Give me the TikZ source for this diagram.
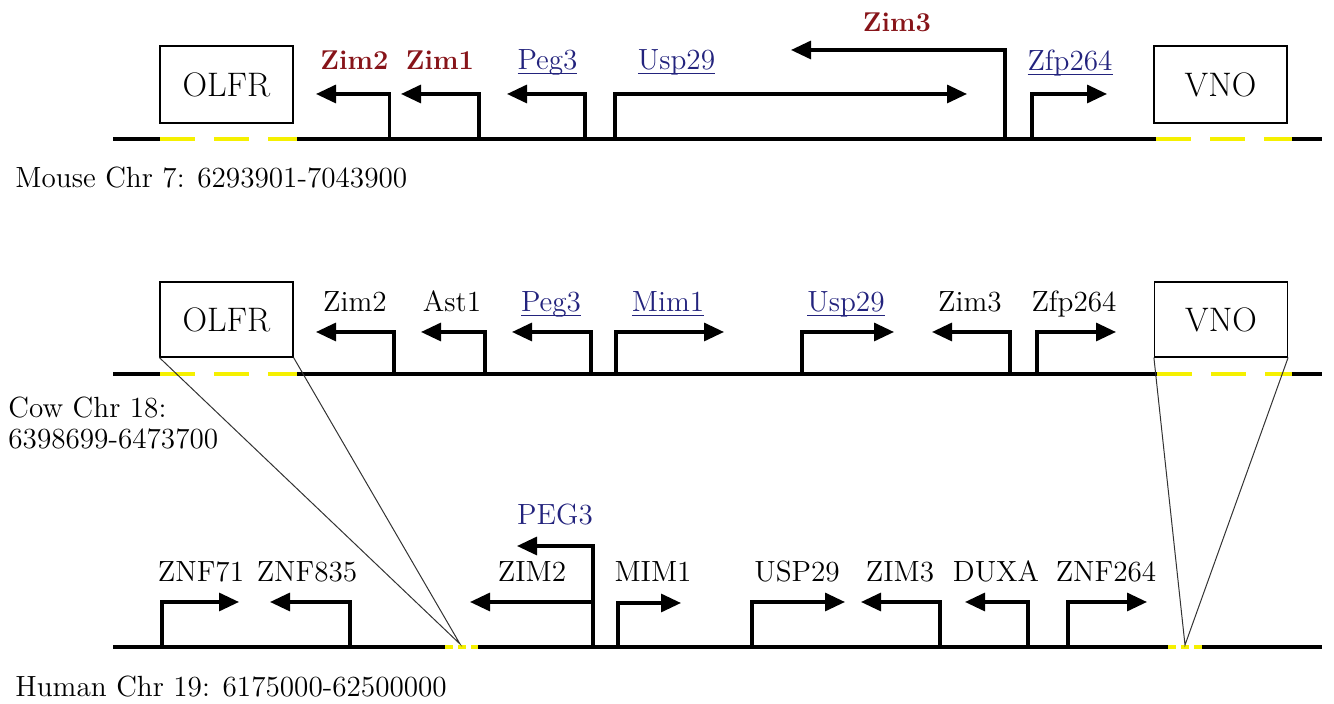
\documentclass[tikz,border=0pt]{standalone}
\usetikzlibrary{arrows.meta}
\definecolor{genered}{RGB}{135,20,25}
\definecolor{geneblue}{RGB}{35,35,125}
\definecolor{chryellow}{RGB}{245,240,0}
\newcommand\gul[1]{\setbox0\hbox{#1}\rlap{\rule[-2pt]{\wd0}{0.7pt}}\box0}
\begin{document}
\begin{tikzpicture}[x=0.5pt,y=-0.5pt,
  chrline/.style={line width=1.6pt, black},
  yel/.style={line width=1.6pt, chryellow, dash pattern=on 17.5pt off 9.5pt},
  yeldot/.style={line width=1.6pt, chryellow, dash pattern=on 4pt off 2.6pt},
  gene/.style={line width=1.6pt, -{Triangle[length=10pt,width=9pt]}},
  regbox/.style={draw, line width=0.6pt, inner sep=0pt, minimum width=66.5pt,
     font=\fontsize{17}{20}\selectfont},
  zoomline/.style={line width=0.5pt, black!80},
  lab/.style={inner sep=0pt, anchor=base, font=\fontsize{14.6}{17}\selectfont},
  redlab/.style={inner sep=0pt, anchor=base, text=genered, font=\fontsize{13.6}{16}\selectfont\bfseries},
  bluelab/.style={lab, text=geneblue},
  chrlab/.style={inner sep=0pt, anchor=base west, font=\fontsize{14.6}{17}\selectfont}
]
\useasboundingbox (0,0) rectangle (1334,704);

% ---------------- Mouse ----------------
\draw[chrline] (113,139) -- (160,139);
\draw[yel] (160,139) -- (297,139);
\draw[chrline] (297,139) -- (1156,139);
\draw[yel] (1156,139) -- (1292,139);
\draw[chrline] (1292,139) -- (1322,139);

\node[regbox, minimum height=38.5pt] (mOLFR) at (226.5,84.5) {OLFR};
\node[regbox, minimum height=38.5pt] (mVNO) at (1220.5,84.5) {VNO};

\coordinate (mZim2s) at (389.5,139); \coordinate (mZim2e) at (316,94);
\coordinate (mZim1s) at (479,139);   \coordinate (mZim1e) at (401,94);
\coordinate (mPeg3s) at (585,139);   \coordinate (mPeg3e) at (507,94);
\coordinate (mUsps)  at (615,139);   \coordinate (mUspe)  at (967,94);
\coordinate (mZim3s) at (1005,139);  \coordinate (mZim3e) at (791,50);
\coordinate (mZfps)  at (1032,139);  \coordinate (mZfpe)  at (1107,94);
\draw[gene] (mZim2s) |- (mZim2e);
\draw[gene] (mZim1s) |- (mZim1e);
\draw[gene] (mPeg3s) |- (mPeg3e);
\draw[gene] (mUsps) |- (mUspe);
\draw[gene] (mZim3s) |- (mZim3e);
\draw[gene] (mZfps) |- (mZfpe);

\node[redlab] (lmZim2) at (354.5,70) {Zim2};
\node[redlab] (lmZim1) at (440,70) {Zim1};
\node[bluelab] (lmPeg3) at (547.5,70) {\gul{Peg3}};
\node[bluelab] (lmUsp) at (676.5,70) {\gul{Usp29}};
\node[redlab] (lmZim3) at (897,32) {Zim3};
\node[bluelab] (lmZfp) at (1070,71) {\gul{Zfp264}};

\node[chrlab] (mChr) at (15,188) {Mouse Chr 7: 6293901-7043900};

% ---------------- Cow ----------------
\draw[chrline] (113,374) -- (160,374);
\draw[yel] (160,374) -- (297,374);
\draw[chrline] (297,374) -- (1157,374);
\draw[yel] (1157,374) -- (1292,374);
\draw[chrline] (1292,374) -- (1322,374);

\node[regbox, minimum height=37.5pt] (cOLFR) at (226.5,319.5) {OLFR};
\node[regbox, minimum height=37.5pt] (cVNO) at (1221,319.5) {VNO};

\coordinate (cZim2s) at (394,374);  \coordinate (cZim2e) at (316,332);
\coordinate (cAsts)  at (485,374);  \coordinate (cAste)  at (421,332);
\coordinate (cPeg3s) at (591,374);  \coordinate (cPeg3e) at (512,332);
\coordinate (cMims)  at (616,374);  \coordinate (cMime)  at (724,332);
\coordinate (cUsps)  at (802,374);  \coordinate (cUspe)  at (894,332);
\coordinate (cZim3s) at (1010,374); \coordinate (cZim3e) at (932,332);
\coordinate (cZfps)  at (1037,374); \coordinate (cZfpe)  at (1116,332);
\draw[gene] (cZim2s) |- (cZim2e);
\draw[gene] (cAsts) |- (cAste);
\draw[gene] (cPeg3s) |- (cPeg3e);
\draw[gene] (cMims) |- (cMime);
\draw[gene] (cUsps) |- (cUspe);
\draw[gene] (cZim3s) |- (cZim3e);
\draw[gene] (cZfps) |- (cZfpe);

\node[lab] (lcZim2) at (355,312) {Zim2};
\node[lab] (lcAst) at (452,312) {Ast1};
\node[bluelab] (lcPeg3) at (551,312) {\gul{Peg3}};
\node[bluelab] (lcMim) at (668,312) {\gul{Mim1}};
\node[bluelab] (lcUsp) at (846,312) {\gul{Usp29}};
\node[lab] (lcZim3) at (970,312) {Zim3};
\node[lab] (lcZfp) at (1074,312) {Zfp264};

\node[chrlab] (cChrA) at (8,418) {Cow Chr 18:};
\node[chrlab] (cChrB) at (8,449) {6398699-6473700};

% ---------------- Human ----------------
\draw[chrline] (113,647) -- (445,647);
\draw[yeldot] (445,647) -- (478,647);
\draw[chrline] (478,647) -- (1168,647);
\draw[yeldot] (1168,647) -- (1202,647);
\draw[chrline] (1202,647) -- (1322,647);

\coordinate (hL) at (460,644);
\coordinate (hR) at (1185,645);
\draw[zoomline] (cOLFR.south west) -- (hL) -- (cOLFR.south east);
\draw[zoomline] (cVNO.south west) -- (hR) -- (cVNO.south east);

\coordinate (hZ71s) at (162,647);   \coordinate (hZ71e) at (239,602);
\coordinate (hZ835s) at (350,647);  \coordinate (hZ835e) at (270,602);
\coordinate (hPegs) at (593,647);   \coordinate (hPege) at (517,546);
\coordinate (hZim2b) at (593,602);  \coordinate (hZim2e) at (470,602);
\coordinate (hMims) at (618,647);   \coordinate (hMime) at (681,603);
\coordinate (hUsps) at (752,647);   \coordinate (hUspe) at (845,602);
\coordinate (hZim3s) at (940,647);  \coordinate (hZim3e) at (861,602);
\coordinate (hDuxs) at (1028,647);  \coordinate (hDuxe) at (965,602);
\coordinate (hZ264s) at (1068,647); \coordinate (hZ264e) at (1147,602);
\draw[gene] (hZ71s) |- (hZ71e);
\draw[gene] (hZ835s) |- (hZ835e);
\draw[gene] (hPegs) |- (hPege);
\draw[gene] (hZim2b) -- (hZim2e);
\draw[gene] (hMims) |- (hMime);
\draw[gene] (hUsps) |- (hUspe);
\draw[gene] (hZim3s) |- (hZim3e);
\draw[gene] (hDuxs) |- (hDuxe);
\draw[gene] (hZ264s) |- (hZ264e);

\node[lab] (lhZ71) at (201,582) {ZNF71};
\node[lab] (lhZ835) at (307,582) {ZNF835};
\node[lab] (lhZim2) at (532,582) {ZIM2};
\node[bluelab] (lhPeg) at (555,525) {PEG3};
\node[lab] (lhMim) at (653,582) {MIM1};
\node[lab] (lhUsp) at (797,582) {USP29};
\node[lab] (lhZim3) at (900,582) {ZIM3};
\node[lab] (lhDux) at (996,582) {DUXA};
\node[lab] (lhZ264) at (1106,582) {ZNF264};

\node[chrlab] (hChr) at (15,697) {Human Chr 19: 6175000-62500000};
\end{tikzpicture}
\end{document}
